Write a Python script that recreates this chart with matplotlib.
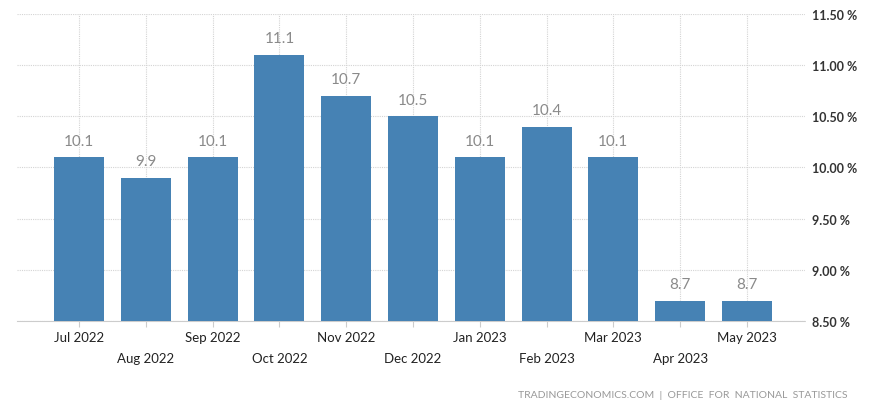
import matplotlib.pyplot as plt
import numpy as np

months = ["Jul 2022", "Aug 2022", "Sep 2022", "Oct 2022", "Nov 2022", "Dec 2022",
          "Jan 2023", "Feb 2023", "Mar 2023", "Apr 2023", "May 2023"]
values = [10.1, 9.9, 10.1, 11.1, 10.7, 10.5, 10.1, 10.4, 10.1, 8.7, 8.7]
yticks = [8.5, 9.0, 9.5, 10.0, 10.5, 11.0, 11.5]

plt.rcParams['font.family'] = ['Lato', 'DejaVu Sans']

fig = plt.figure(figsize=(8.76, 4.14), dpi=100)
ax = fig.add_axes([0.0194, 0.2222, 0.8996, 0.7416])

x = np.arange(len(months))
ax.bar(x, values, width=0.75, color="#4682b4", zorder=3)
for xi, v in zip(x, values):
    ax.annotate(f"{v:.1f}", (xi, v), xytext=(0, 7), textcoords="offset points",
                ha="center", va="bottom", fontsize=11, color="#8a8a8a", zorder=4)

ax.set_xlim(-0.93, 10.87)
ax.set_ylim(8.5, 11.5)
ax.set_yticks(yticks)
ax.set_yticklabels([f"{t:.2f} %" for t in yticks])
ax.yaxis.tick_right()
ax.tick_params(axis="y", length=0, pad=5, labelsize=9, labelcolor="#333333")
for lab in ax.get_yticklabels():
    lab.set_fontweight("bold")

ax.set_xticks(x)
ax.set_xticklabels(months)
ax.tick_params(axis="x", length=4, color="#cccccc", labelsize=9.5, labelcolor="#222222", pad=3)
for i, lab in enumerate(ax.get_xticklabels()):
    if i % 2 == 1:
        lab.set_y(-0.07)

ax.grid(True, which="both", linestyle=(0, (1, 1)), color="#d4d4d4", linewidth=0.8, zorder=0)
for s in ["top", "right", "left"]:
    ax.spines[s].set_visible(False)
ax.spines["bottom"].set_linestyle((0, (1, 1)))
ax.spines["bottom"].set_color("#cccccc")

fig.text(0.967, 0.035, "TRADINGECONOMICS.COM  |  OFFICE  FOR  NATIONAL  STATISTICS",
         ha="right", va="bottom", fontsize=7.5, color="#999999")

fig.savefig("out.png", dpi=100)
